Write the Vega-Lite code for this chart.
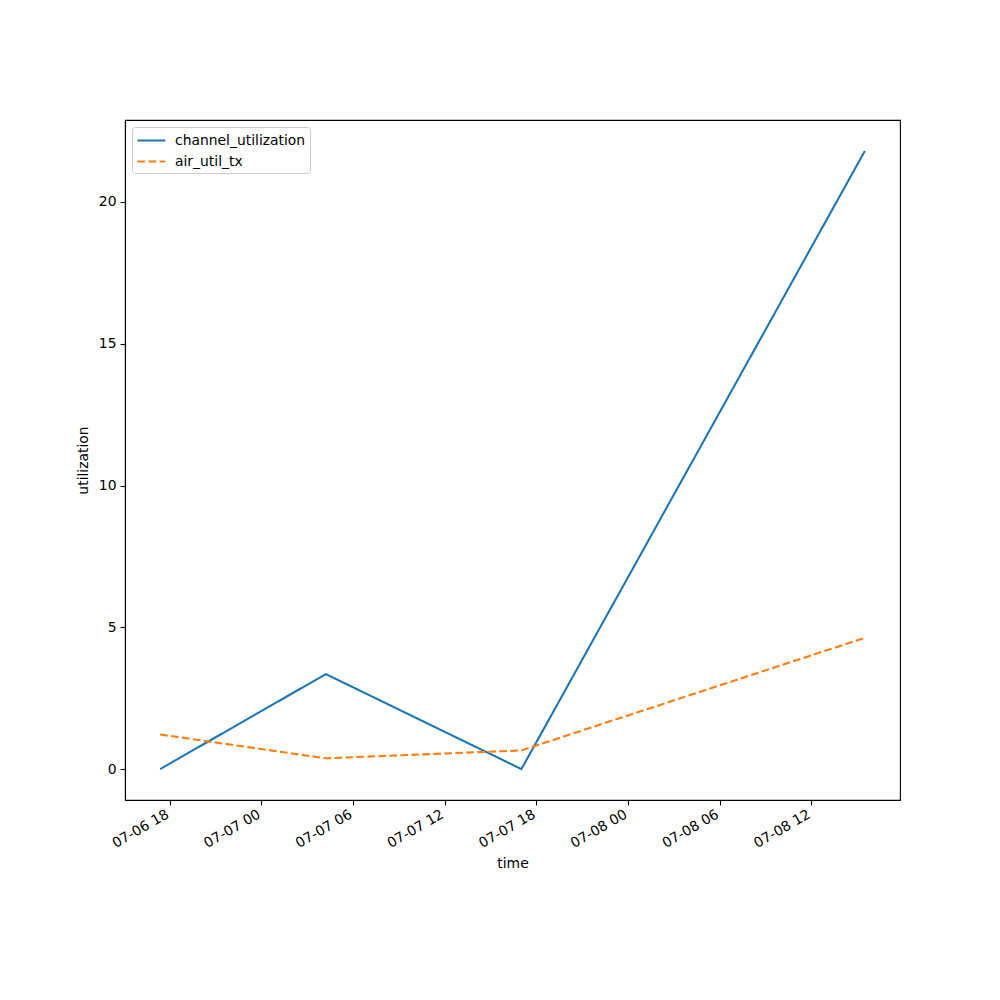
{
  "$schema": "https://vega.github.io/schema/vega-lite/v6.json",
  "width": 775,
  "height": 680,
  "autosize": {"type": "none"},
  "padding": {"left": 125, "top": 120, "right": 100, "bottom": 200},
  "background": "white",
  "config": {
    "font": "DejaVu Sans",
    "view": {"stroke": "black", "strokeWidth": 1.1},
    "axis": {
      "grid": false,
      "labelFont": "DejaVu Sans",
      "labelFontSize": 13.9,
      "labelColor": "black",
      "titleFont": "DejaVu Sans",
      "titleFontSize": 13.9,
      "titleFontWeight": "normal",
      "titleColor": "black",
      "tickColor": "black",
      "domainColor": "black",
      "tickSize": 5,
      "tickWidth": 1.1,
      "domainWidth": 1.1,
      "labelPadding": 4,
      "labelFlush": false,
      "labelOverlap": false
    }
  },
  "data": {
    "values": [
      {"time": "2024-07-06T17:22:00", "series": "channel_utilization", "value": 0.0},
      {"time": "2024-07-07T04:13:00", "series": "channel_utilization", "value": 3.35},
      {"time": "2024-07-07T17:01:00", "series": "channel_utilization", "value": 0.0},
      {"time": "2024-07-08T15:30:00", "series": "channel_utilization", "value": 21.8},
      {"time": "2024-07-06T17:22:00", "series": "air_util_tx", "value": 1.22},
      {"time": "2024-07-07T04:13:00", "series": "air_util_tx", "value": 0.38},
      {"time": "2024-07-07T17:01:00", "series": "air_util_tx", "value": 0.66},
      {"time": "2024-07-08T15:30:00", "series": "air_util_tx", "value": 4.63}
    ]
  },
  "mark": {"type": "line", "strokeWidth": 2.1},
  "encoding": {
    "x": {
      "field": "time",
      "type": "temporal",
      "title": "time",
      "scale": {
        "domain": [
          {"year": 2024, "month": 7, "date": 6, "hours": 15, "minutes": 4},
          {"year": 2024, "month": 7, "date": 8, "hours": 17, "minutes": 48}
        ],
        "nice": false
      },
      "axis": {
        "values": [
          {"year": 2024, "month": 7, "date": 6, "hours": 18},
          {"year": 2024, "month": 7, "date": 7, "hours": 0},
          {"year": 2024, "month": 7, "date": 7, "hours": 6},
          {"year": 2024, "month": 7, "date": 7, "hours": 12},
          {"year": 2024, "month": 7, "date": 7, "hours": 18},
          {"year": 2024, "month": 7, "date": 8, "hours": 0},
          {"year": 2024, "month": 7, "date": 8, "hours": 6},
          {"year": 2024, "month": 7, "date": 8, "hours": 12}
        ],
        "labelExpr": "timeFormat(datum.value, '%m-%d %H')",
        "labelAngle": -30,
        "labelAlign": "right",
        "labelBaseline": "top",
        "labelOffset": -6,
        "labelPadding": 2,
        "titlePadding": 6
      }
    },
    "y": {
      "field": "value",
      "type": "quantitative",
      "title": "utilization",
      "scale": {"domain": [-1.09, 22.89], "nice": false, "zero": false},
      "axis": {"values": [0, 5, 10, 15, 20], "format": "d", "titlePadding": 8}
    },
    "color": {
      "field": "series",
      "type": "nominal",
      "scale": {"domain": ["channel_utilization", "air_util_tx"], "range": ["#1f77b4", "#ff7f0e"]},
      "legend": {
        "title": null,
        "orient": "none",
        "legendX": 7,
        "legendY": 7,
        "symbolType": "M-1,0H2.5",
        "symbolSize": 256,
        "symbolStrokeWidth": 2.1,
        "labelFont": "DejaVu Sans",
        "labelFontSize": 13.9,
        "labelColor": "black",
        "fillColor": "white",
        "strokeColor": "#cccccc",
        "cornerRadius": 3,
        "padding": 4,
        "rowPadding": 4,
        "labelOffset": 20
      }
    },
    "strokeDash": {
      "field": "series",
      "type": "nominal",
      "scale": {"domain": ["channel_utilization", "air_util_tx"], "range": [[1, 0], [7.7, 3.3]]},
      "legend": null
    }
  }
}
